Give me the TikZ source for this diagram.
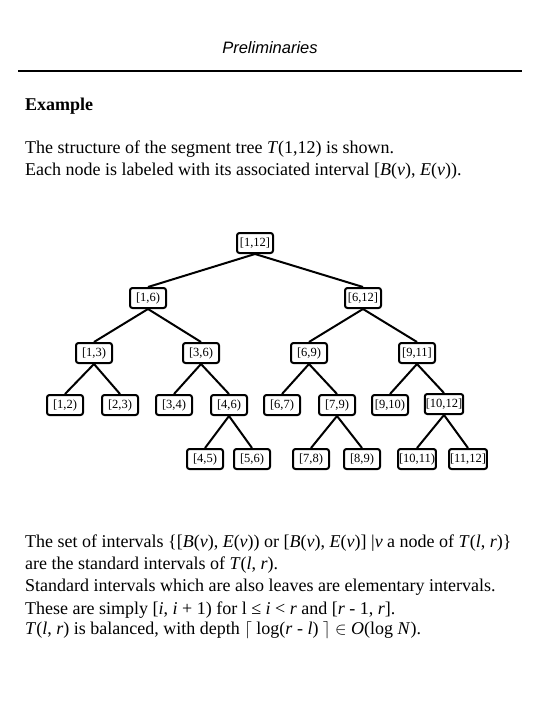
\documentclass[tikz,border=0pt]{standalone}
\usepackage{fontspec}
\setmainfont{Liberation Serif}
\setsansfont{Liberation Sans}
\usepackage{tikz}
\usetikzlibrary{positioning}

\tikzset{
  seg/.style={draw, rounded corners=2.5pt, line width=2pt, minimum width=36pt,
    minimum height=20pt, inner sep=1pt, font=\fontsize{12.5}{12.5}\selectfont},
  edge/.style={line width=2pt},
  txt/.style={anchor=base west, inner sep=0pt, font=\fontsize{18}{18}\selectfont}
}

\begin{document}
\begin{tikzpicture}[x=1pt, y=-1pt]
  \useasboundingbox (0,0) rectangle (540,720);

  % Heading
  \node (head) at (270,48) {\fontsize{16.5}{16.5}\selectfont\sffamily\itshape Preliminaries};
  \coordinate (ruleL) at (18,71);
  \coordinate (ruleR) at (522,71);
  \draw[line width=2pt] (ruleL) -- (ruleR);

  \node[txt] (ex) at (25,110) {\bfseries Example};
  \node[txt] (t1) at (25,153) {The structure of the segment tree \textit{T}(1,12) is shown.};
  \node[txt] (t2) at (25,175) {Each node is labeled with its associated interval [\textit{B}(\textit{v}), \textit{E}(\textit{v})).};

  % Define nodes
  \node[seg] (i1x12) at (255,243) {[1,12]};
  \node[seg] (i1x6) at (148,298) {[1,6)};
  \node[seg] (i6x12) at (363,298) {[6,12]};
  \node[seg] (i1x3) at (94,353) {[1,3)};
  \node[seg] (i3x6) at (201,353) {[3,6)};
  \node[seg] (i6x9) at (309,353) {[6,9)};
  \node[seg] (i9x11) at (417,353) {[9,11]};
  \node[seg] (i1x2) at (65,405) {[1,2)};
  \node[seg] (i2x3) at (120,405) {[2,3)};
  \node[seg] (i3x4) at (174,405) {[3,4)};
  \node[seg] (i4x6) at (229,405) {[4,6)};
  \node[seg] (i6x7) at (282,405) {[6,7)};
  \node[seg] (i7x9) at (337,405) {[7,9)};
  \node[seg] (i9x10) at (390,405) {[9,10)};
  \node[seg] (i10x12) at (444,404) {[10,12]};
  \node[seg] (i4x5) at (205,459) {[4,5)};
  \node[seg] (i5x6) at (252,459) {[5,6)};
  \node[seg] (i7x8) at (311,459) {[7,8)};
  \node[seg] (i8x9) at (362,459) {[8,9)};
  \node[seg] (i10x11) at (417,459) {[10,11)};
  \node[seg] (i11x12) at (468,459) {[11,12]};

  % Draw edges
  \draw[edge] (i1x12.south) -- (i1x6.north);
  \draw[edge] (i1x12.south) -- (i6x12.north);
  \draw[edge] (i1x6.south) -- (i1x3.north);
  \draw[edge] (i1x6.south) -- (i3x6.north);
  \draw[edge] (i6x12.south) -- (i6x9.north);
  \draw[edge] (i6x12.south) -- (i9x11.north);
  \draw[edge] (i1x3.south) -- (i1x2.north);
  \draw[edge] (i1x3.south) -- (i2x3.north);
  \draw[edge] (i3x6.south) -- (i3x4.north);
  \draw[edge] (i3x6.south) -- (i4x6.north);
  \draw[edge] (i6x9.south) -- (i6x7.north);
  \draw[edge] (i6x9.south) -- (i7x9.north);
  \draw[edge] (i9x11.south) -- (i9x10.north);
  \draw[edge] (i9x11.south) -- (i10x12.north);
  \draw[edge] (i4x6.south) -- (i4x5.north);
  \draw[edge] (i4x6.south) -- (i5x6.north);
  \draw[edge] (i7x9.south) -- (i7x8.north);
  \draw[edge] (i7x9.south) -- (i8x9.north);
  \draw[edge] (i10x12.south) -- (i10x11.north);
  \draw[edge] (i10x12.south) -- (i11x12.north);

  % Closing remarks
  \node[txt] (b1) at (25,547) {The set of intervals \{[\textit{B}(\textit{v}), \textit{E}(\textit{v})) or [\textit{B}(\textit{v}), \textit{E}(\textit{v})] \textbar\textit{v} a node of \textit{T}(\textit{l}, \textit{r})\}};
  \node[txt] (b2) at (25,569) {are the standard intervals of \textit{T}(\textit{l}, \textit{r}).};
  \node[txt] (b3) at (25,591) {Standard intervals which are also leaves are elementary intervals.};
  \node[txt] (b4) at (25,614) {These are simply [\textit{i}, \textit{i} + 1) for l ≤ \textit{i} < \textit{r} and [\textit{r} - 1, \textit{r}].};
  \node[txt] (b5) at (25,634) {\textit{T}(\textit{l}, \textit{r}) is balanced, with depth $\lceil$ log(\textit{r} - \textit{l}) $\rceil$ $\in$ \textit{O}(log \textit{N}).};
\end{tikzpicture}
\end{document}
